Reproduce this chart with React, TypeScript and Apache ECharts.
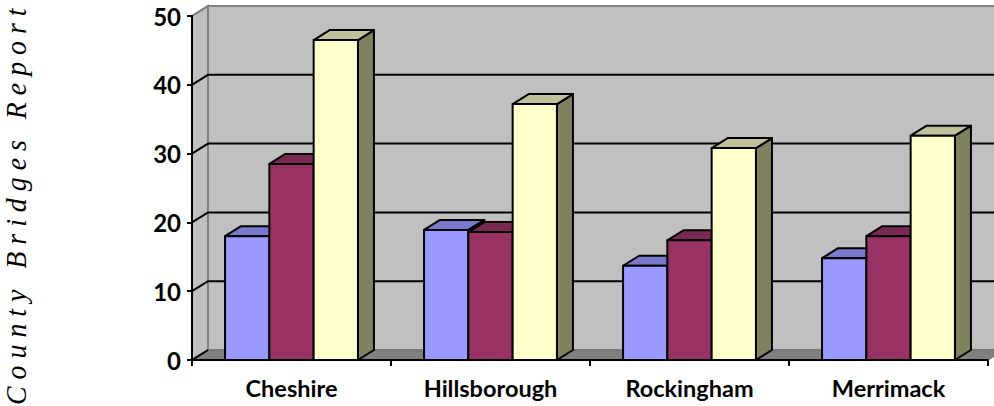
import React, { useEffect, useRef } from "react";
import * as echarts from "echarts";

const categories = ["Cheshire", "Hillsborough", "Rockingham", "Merrimack"];
const seriesA = [18.0, 18.9, 13.7, 14.8];
const seriesB = [28.5, 18.6, 17.4, 18.0];
const seriesC = [46.5, 37.2, 30.8, 32.6];
const yTicks = [0, 10, 20, 30, 40, 50];
const titleText = "C o u n t y   B r i d g e s   R e p o r t";

const DX = 16;
const DY = 10;
const BAR_FRACTION = 44.3 / 199;
const INK = "#000000";

const palette = [
  { front: "#9999FF", top: "#7A7ACC", side: "#5C5C99" },
  { front: "#993366", top: "#7A2952", side: "#5C1F3D" },
  { front: "#FFFFCC", top: "#C0C09A", side: "#80805F" },
];

function wallRender(params: any, api: any) {
  const cs = params.coordSys;
  const left = cs.x;
  const right = cs.x + cs.width;
  const y0 = api.coord([0, 0])[1];
  const yTop = api.coord([0, 50])[1];
  const children: any[] = [
    {
      type: "polygon",
      shape: { points: [[left + DX, yTop - DY], [right + DX, yTop - DY], [right + DX, y0 - DY], [left + DX, y0 - DY]] },
      style: { fill: "#C0C0C0", stroke: "#808080", lineWidth: 2 },
    },
    {
      type: "polygon",
      shape: { points: [[left, yTop], [left + DX, yTop - DY], [left + DX, y0 - DY], [left, y0]] },
      style: { fill: "#C0C0C0", stroke: "#808080", lineWidth: 2 },
    },
    {
      type: "polygon",
      shape: { points: [[left, y0], [left + DX, y0 - DY], [right + DX, y0 - DY], [right, y0]] },
      style: { fill: "#808080", stroke: "#6E6E6E", lineWidth: 1 },
    },
  ];
  yTicks.forEach((t) => {
    const y = api.coord([0, t])[1];
    const pts = t === 0 || t === 50
      ? [[left, y], [left + DX, y - DY]]
      : [[left, y], [left + DX, y - DY], [right + DX, y - DY]];
    children.push({
      type: "polyline",
      shape: { points: pts },
      style: { fill: "none", stroke: t === 50 ? "#808080" : INK, lineWidth: 2 },
    });
  });
  return { type: "group", children };
}

function barRender(index: number) {
  return (_params: any, api: any) => {
    const cat = api.value(0);
    const [cx, yTop] = api.coord([cat, api.value(1)]);
    const y0 = api.coord([cat, 0])[1];
    const w = api.size([1, 0])[0] * BAR_FRACTION;
    const x0 = cx + (index - 1.5) * w;
    const x1 = x0 + w;
    const c = palette[index];
    const stroke = { stroke: INK, lineWidth: 2, lineJoin: "round" };
    return {
      type: "group",
      children: [
        {
          type: "polygon",
          shape: { points: [[x1, yTop], [x1 + DX, yTop - DY], [x1 + DX, y0 - DY], [x1, y0]] },
          style: { fill: c.side, ...stroke },
        },
        {
          type: "polygon",
          shape: { points: [[x0, yTop], [x0 + DX, yTop - DY], [x1 + DX, yTop - DY], [x1, yTop]] },
          style: { fill: c.top, ...stroke },
        },
        {
          type: "polygon",
          shape: { points: [[x0, yTop], [x1, yTop], [x1, y0], [x0, y0]] },
          style: { fill: c.front, ...stroke },
        },
      ],
    };
  };
}

export default function App() {
  const ref = useRef<HTMLDivElement>(null);
  useEffect(() => {
    const chart = echarts.init(ref.current!, undefined, { renderer: "svg" });
    const labelFont = { fontFamily: "Lato", fontWeight: "bold" as const, color: "#000" };
    const values = [seriesA, seriesB, seriesC];
    chart.setOption({
      animation: false,
      backgroundColor: "#FFFFFF",
      grid: { left: 192, top: 16, width: 796, height: 344, containLabel: false },
      xAxis: {
        type: "category",
        data: categories,
        boundaryGap: true,
        z: 10,
        axisLine: { show: true, lineStyle: { color: INK, width: 2 } },
        axisTick: { show: true, length: 6, alignWithLabel: false, lineStyle: { color: INK, width: 2 } },
        axisLabel: { ...labelFont, fontSize: 23.5, margin: 16, interval: 0 },
      },
      yAxis: {
        type: "value",
        min: 0,
        max: 50,
        interval: 10,
        z: 10,
        splitLine: { show: false },
        axisLine: { show: true, lineStyle: { color: INK, width: 2 } },
        axisTick: { show: true, length: 5, lineStyle: { color: INK, width: 2 } },
        axisLabel: { ...labelFont, fontSize: 24, margin: 11 },
      },
      graphic: [
        {
          type: "text",
          x: 1,
          y: 405,
          rotation: Math.PI / 2,
          scaleX: 0.93,
          style: {
            text: titleText,
            font: "italic 30px 'Liberation Serif'",
            fill: "#000",
            textVerticalAlign: "top",
          },
        },
      ],
      series: [
        {
          type: "custom",
          z: 1,
          silent: true,
          renderItem: wallRender,
          data: [[0, 0]],
          encode: { x: 0, y: 1 },
        },
        ...values.map((vals, i) => ({
          type: "custom",
          z: 3 + i,
          renderItem: barRender(i),
          data: vals.map((v, c) => [c, v]),
          encode: { x: 0, y: 1 },
        })),
      ],
    });
    return () => chart.dispose();
  }, []);
  return (
    <div
      ref={ref}
      style={{ position: "fixed", left: 0, top: 0, width: 994, height: 406 }}
    />
  );
}
